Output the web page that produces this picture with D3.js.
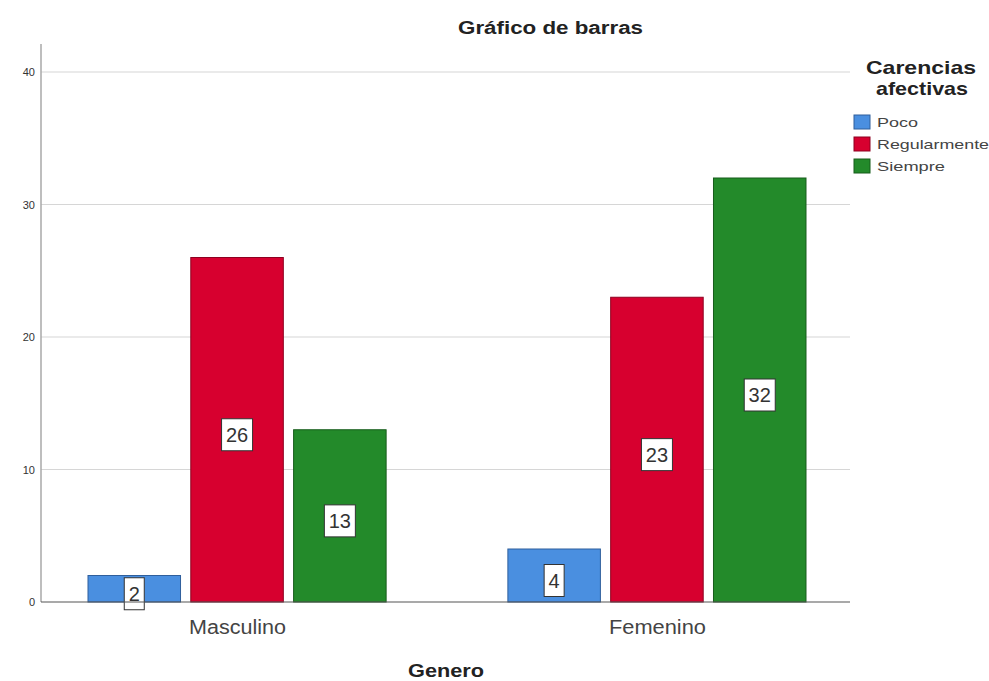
<!DOCTYPE html>
<html><head><meta charset="utf-8">
<script src="https://cdn.jsdelivr.net/npm/d3@7"></script>
<style>body{margin:0;background:#fff}svg{display:block}</style>
</head><body>
<svg id="c" width="989" height="681"></svg>
<script>
const groups = ["Masculino", "Femenino"];
const series = ["Poco", "Regularmente", "Siempre"];
const poco = [2, 4];
const regularmente = [26, 23];
const siempre = [13, 32];
const yTicks = [0, 10, 20, 30, 40];
const colors = ["#4a8fe0", "#d7002f", "#238a2a"];
const strokes = ["#2f5f9c", "#8e0020", "#175c1b"];

(function () {
const values = [poco, regularmente, siempre];
const data = groups.map((g, gi) => ({g, vals: series.map((s, si) => ({s, si, v: values[si][gi]}))}));

const svg = d3.select("#c");
const font = "Arial, 'Liberation Sans', sans-serif";
const pLeft = 41, pRight = 850, pBottom = 602, pTop = 72;

const y = d3.scaleLinear().domain([0, 40]).range([pBottom, pTop]);
const x0 = d3.scaleBand().domain(groups).range([88, 806]).paddingInner(0.29).paddingOuter(0);
const x1 = d3.scaleBand().domain(series).range([0, x0.bandwidth()]).paddingInner(0.1).paddingOuter(0);

// gridlines
svg.append("g").selectAll("line").data(yTicks.filter(d => d > 0)).join("line")
  .attr("x1", pLeft).attr("x2", pRight).attr("y1", d => y(d)).attr("y2", d => y(d))
  .attr("stroke", "#d6d6d6").attr("stroke-width", 1.2);

// y axis
const ya = svg.append("g").attr("transform", `translate(${pLeft},0)`)
  .call(d3.axisLeft(y).tickValues(yTicks).tickSize(0).tickPadding(6));
ya.select(".domain").remove();
ya.selectAll("text").attr("font-family", font).attr("font-size", 11).attr("fill", "#333");
svg.append("line").attr("x1", pLeft).attr("x2", pLeft).attr("y1", 44).attr("y2", pBottom)
  .attr("stroke", "#a8a8a8").attr("stroke-width", 1.5);

// bars
const gg = svg.append("g").selectAll("g").data(data).join("g")
  .attr("transform", d => `translate(${x0(d.g)},0)`);
gg.selectAll("rect").data(d => d.vals).join("rect")
  .attr("x", d => x1(d.s)).attr("width", x1.bandwidth())
  .attr("y", d => y(d.v)).attr("height", d => y(0) - y(d.v))
  .attr("fill", d => colors[d.si]).attr("stroke", d => strokes[d.si]).attr("stroke-width", 1);

// baseline
svg.append("line").attr("x1", pLeft).attr("x2", pRight).attr("y1", pBottom).attr("y2", pBottom)
  .attr("stroke", "#555").attr("stroke-width", 1.2);

// value labels
const lab = gg.selectAll("g.lab").data(d => d.vals).join("g").attr("class", "lab")
  .attr("transform", d => `translate(${x1(d.s) + x1.bandwidth() / 2},${(y(d.v) + y(0)) / 2 + 5})`);
lab.each(function(d) {
  const g = d3.select(this);
  const w = String(d.v).length === 1 ? 20 : 31;
  g.append("rect").attr("x", -w / 2).attr("y", -16).attr("width", w).attr("height", 32)
    .attr("fill", "#fff").attr("stroke", "#333").attr("stroke-width", 1);
  g.append("text").attr("text-anchor", "middle").attr("dy", "0.36em")
    .attr("font-family", font).attr("font-size", 20).attr("fill", "#333").text(d.v);
});

// x labels
svg.append("g").selectAll("text").data(groups).join("text")
  .attr("x", d => x0(d) + x0.bandwidth() / 2 - 48).attr("y", 634)
  .attr("textLength", 97).attr("lengthAdjust", "spacingAndGlyphs")
  .attr("font-family", font).attr("font-size", 20).attr("fill", "#444")
  .text(d => d);

// titles
svg.append("text").attr("x", 458).attr("y", 34)
  .attr("textLength", 185).attr("lengthAdjust", "spacingAndGlyphs")
  .attr("font-family", font).attr("font-size", 18).attr("font-weight", "bold").attr("fill", "#222")
  .text("Gráfico de barras");
svg.append("text").attr("x", 408).attr("y", 677)
  .attr("textLength", 76).attr("lengthAdjust", "spacingAndGlyphs")
  .attr("font-family", font).attr("font-size", 18).attr("font-weight", "bold").attr("fill", "#222")
  .text("Genero");

// legend
const lg = svg.append("g");
lg.append("text").attr("x", 866).attr("y", 74)
  .attr("textLength", 110).attr("lengthAdjust", "spacingAndGlyphs")
  .attr("font-family", font).attr("font-size", 19).attr("font-weight", "bold").attr("fill", "#222")
  .text("Carencias");
lg.append("text").attr("x", 876).attr("y", 95)
  .attr("textLength", 92).attr("lengthAdjust", "spacingAndGlyphs")
  .attr("font-family", font).attr("font-size", 19).attr("font-weight", "bold").attr("fill", "#222")
  .text("afectivas");
const itemW = [41, 112, 68];
const li = lg.selectAll("g.it").data(series).join("g").attr("class", "it")
  .attr("transform", (d, i) => `translate(854,${115 + i * 22})`);
li.append("rect").attr("width", 16).attr("height", 14)
  .attr("fill", (d, i) => colors[i]).attr("stroke", (d, i) => strokes[i]);
li.append("text").attr("x", 23).attr("y", 12)
  .attr("textLength", (d, i) => itemW[i]).attr("lengthAdjust", "spacingAndGlyphs")
  .attr("font-family", font).attr("font-size", 13.5)
  .attr("fill", "#444").text(d => d);
})();
</script>
</body></html>
